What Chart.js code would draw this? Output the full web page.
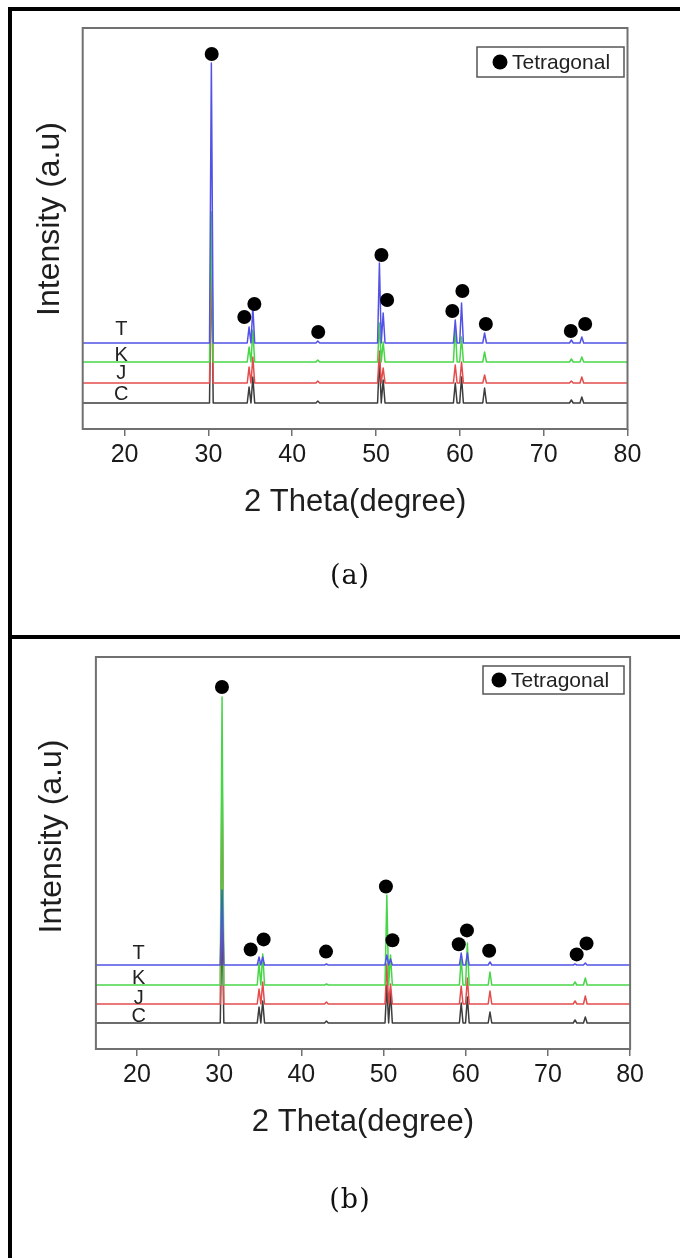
<!DOCTYPE html>
<html>
<head>
<meta charset="utf-8">
<script src="https://cdn.jsdelivr.net/npm/chart.js@4.4.1/dist/chart.umd.min.js"></script>
<style>
  body { margin: 0; background: #fff; }
  #page { position: relative; width: 680px; height: 1258px; overflow: hidden; background: #fff; }
  .bar { position: absolute; background: #000; z-index: 2; }
  canvas { position: absolute; left: 0; }
  .caption {
    position: absolute; left: 300px; width: 100px; text-align: center;
    font-family: "DejaVu Serif", serif; font-size: 27px; line-height: 30px;
    letter-spacing: 1px; color: #111;
  }
</style>
</head>
<body>
<div id="page">
  <div class="bar" style="left:8px; top:7px; width:4px; height:1251px;"></div>
  <div class="bar" style="left:8px; top:7px; width:672px; height:4px;"></div>
  <div class="bar" style="left:8px; top:635px; width:672px; height:4px;"></div>
  <canvas id="chartA" width="680" height="635" style="top:0;"></canvas>
  <canvas id="chartB" width="680" height="619" style="top:639px;"></canvas>
  <div class="caption" style="top:560px;">(a)</div>
  <div class="caption" style="top:1184px;">(b)</div>
</div>
<script>
// x axis
const xTicks = [20, 30, 40, 50, 60, 70, 80];
// 2 theta of the diffraction peaks
const peakAngles = [30.35, 34.85, 35.3, 43.05, 50.4, 50.85, 59.45, 60.2, 62.95, 73.3, 74.55];
const sampleNames = ['T', 'K', 'J', 'C'];

// panel (a): baseline offset and peak heights of each sample (a.u)
const offsetsA = [86, 67, 46, 26];
const peaksA_T = [280, 16, 36, 2, 80, 30, 23, 40, 10, 3, 6];
const peaksA_K = [150, 15, 32, 2, 39, 20, 35, 25, 10, 3, 5];
const peaksA_J = [130, 16, 26, 2, 32, 15, 18, 21, 8, 2, 6];
const peaksA_C = [160, 16, 26, 2, 44, 23, 20, 26, 15, 3, 6];
const markerA_x = [30.39, 34.28, 35.48, 43.1, 50.64, 51.32, 59.1, 60.3, 63.1, 73.24, 74.95];
const markerA_y = [375, 112, 125, 97, 174, 129, 118, 138, 105, 98, 105];
const labelA_x = 19.6;
const labelA_y = [100, 74, 56, 35];

// panel (b)
const offsetsB = [84, 64, 45, 26];
const peaksB_T = [75, 8, 8, 1, 10, 6, 12, 12, 3, 1, 2];
const peaksB_K = [288, 22, 31, 1, 90, 30, 27, 42, 13, 3, 7];
const peaksB_J = [240, 15, 22, 2, 40, 20, 18, 26, 13, 3, 8];
const peaksB_C = [110, 16, 22, 2, 38, 32, 20, 26, 11, 3, 6];
const markerB_x = [30.34, 33.83, 35.41, 43.0, 50.29, 51.08, 59.15, 60.15, 62.85, 73.5, 74.7];
const markerB_y = [362, 99.5, 109.6, 97.4, 162.5, 108.8, 104.8, 118.6, 98.2, 94.6, 105.6];
const labelB_x = 20.2;
const labelB_y = [95.4, 71, 51, 32.3];

const colors = { T: '#5252e6', K: '#48d648', J: '#e44c4c', C: '#3c3c3c' };
const PEAK_HALF = 0.22;
const FONT = '"Liberation Sans", Arial, sans-serif';

function buildTrace(base, heights) {
    const pts = [{ x: 15, y: base }];
    peakAngles.forEach((a, i) => {
        pts.push({ x: a - PEAK_HALF, y: base });
        pts.push({ x: a, y: base + heights[i] });
        pts.push({ x: a + PEAK_HALF, y: base });
    });
    pts.push({ x: 80, y: base });
    return pts;
}

// frame, sample letters, legend box and y title
const decorPlugin = {
    id: 'decor',
    afterDatasetsDraw(chart, args, opts) {
        const ctx = chart.ctx;
        const a = chart.chartArea;
        const xs = chart.scales.x, ys = chart.scales.y;
        ctx.save();
        ctx.strokeStyle = '#707070';
        ctx.lineWidth = 2;
        ctx.strokeRect(a.left, a.top, a.right - a.left, a.bottom - a.top);

        ctx.fillStyle = '#222';
        ctx.font = '20px ' + FONT;
        ctx.textAlign = 'center';
        ctx.textBaseline = 'middle';
        sampleNames.forEach((n, i) => {
            ctx.fillText(n, xs.getPixelForValue(opts.labelX), ys.getPixelForValue(opts.labelY[i]));
        });

        const L = opts.legend;
        ctx.strokeStyle = '#555';
        ctx.lineWidth = 1.5;
        ctx.strokeRect(L.x, L.y, L.w, L.h);
        ctx.fillStyle = '#000';
        ctx.beginPath();
        ctx.arc(L.cx, L.y + L.h / 2, 7.5, 0, Math.PI * 2);
        ctx.fill();
        ctx.fillStyle = '#222';
        ctx.font = '21px ' + FONT;
        ctx.textAlign = 'left';
        ctx.fillText('Tetragonal', L.cx + 12, L.y + L.h / 2 + 1);

        ctx.translate(opts.titleX, opts.titleY);
        ctx.rotate(-Math.PI / 2);
        ctx.font = '32px ' + FONT;
        ctx.textAlign = 'center';
        ctx.fillStyle = '#1e1e1e';
        ctx.fillText('Intensity (a.u)', 0, 0);
        ctx.restore();
    }
};

function makeChart(id, cfg) {
    const traces = [cfg.T, cfg.K, cfg.J, cfg.C];
    const datasets = [{
        data: cfg.mx.map((x, i) => ({ x: x, y: cfg.my[i] })),
        showLine: false,
        pointRadius: 7,
        pointBackgroundColor: '#000',
        pointBorderWidth: 0,
        order: 0
    }];
    sampleNames.forEach((n, i) => {
        datasets.push({
            data: buildTrace(cfg.offsets[i], traces[i]),
            showLine: true,
            borderColor: colors[n],
            borderWidth: 1.5,
            borderJoinStyle: 'round',
            pointRadius: 0,
            order: i + 1
        });
    });
    return new Chart(document.getElementById(id).getContext('2d'), {
        type: 'scatter',
        data: { datasets: datasets },
        options: {
            responsive: false,
            animation: false,
            devicePixelRatio: 1,
            layout: { padding: cfg.padding },
            plugins: {
                legend: { display: false },
                tooltip: { enabled: false },
                decor: cfg.decor
            },
            scales: {
                x: {
                    type: 'linear',
                    min: 15,
                    max: 80,
                    afterBuildTicks: (scale) => { scale.ticks = xTicks.map(v => ({ value: v })); },
                    afterFit: (scale) => { scale.height = cfg.axisHeight; },
                    grid: { drawOnChartArea: false, drawTicks: true, tickLength: 7, color: '#707070', lineWidth: 1.5 },
                    border: { display: false },
                    ticks: { font: { family: FONT, size: 25 }, color: '#1a1a1a', padding: 4, maxRotation: 0 },
                    title: {
                        display: true,
                        text: '2 Theta(degree)',
                        font: { family: FONT, size: 31 },
                        color: '#1e1e1e',
                        padding: { top: 0, bottom: cfg.titlePad }
                    }
                },
                y: { display: false, min: 0, max: cfg.yMax }
            }
        },
        plugins: [decorPlugin]
    });
}

makeChart('chartA', {
    T: peaksA_T, K: peaksA_K, J: peaksA_J, C: peaksA_C,
    offsets: offsetsA, mx: markerA_x, my: markerA_y,
    yMax: 401, axisHeight: 206, titlePad: 114,
    padding: { left: 82.7, right: 52.5, top: 28, bottom: 0 },
    decor: {
        labelX: labelA_x, labelY: labelA_y,
        legend: { x: 477, y: 47, w: 147, h: 30, cx: 500 },
        titleX: 50, titleY: 219
    }
});

makeChart('chartB', {
    T: peaksB_T, K: peaksB_K, J: peaksB_J, C: peaksB_C,
    offsets: offsetsB, mx: markerB_x, my: markerB_y,
    yMax: 392, axisHeight: 209, titlePad: 117,
    padding: { left: 95.9, right: 49.9, top: 18, bottom: 0 },
    decor: {
        labelX: labelB_x, labelY: labelB_y,
        legend: { x: 483, y: 27, w: 141, h: 28, cx: 499 },
        titleX: 52, titleY: 197.5
    }
});
</script>
</body>
</html>
